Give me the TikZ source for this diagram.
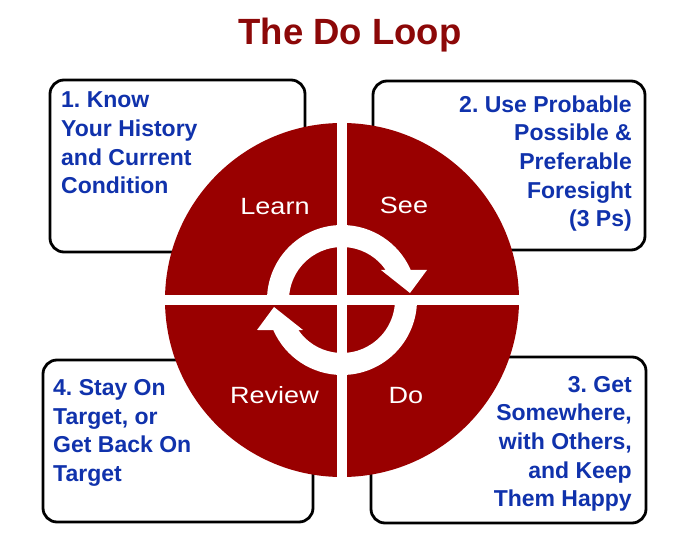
\documentclass[tikz,border=0pt]{standalone}
\usepackage{fontspec}
\setmainfont{Liberation Sans}
\newfontfamily\labfont[FakeStretch=1.15]{Liberation Sans}
\definecolor{loopred}{RGB}{153,0,0}
\definecolor{titlered}{RGB}{140,8,8}
\definecolor{stepblue}{RGB}{16,50,172}
\frenchspacing
\begin{document}
\begin{tikzpicture}[x=1pt,y=1pt,
  card/.style={draw=black, line width=2.8pt, fill=white, rounded corners=14pt},
  steptext/.style={inner sep=0pt, text=stepblue, font=\fontsize{23}{28.7}\selectfont\bfseries},
  seglabel/.style={inner sep=0pt, text=white, font=\labfont\fontsize{23.5}{28}\selectfont, anchor=base},
  looparrow/.style={fill=white}
]
\useasboundingbox (0,0) rectangle (691,544);
\fill[white] (0,0) rectangle (691,544);
\node[anchor=base, text=titlered, font=\fontsize{36.5}{40}\selectfont\bfseries, inner sep=0pt] (title) at (350,499) {The Do Loop};
% cards
\draw[card] (50,292) rectangle (305,464);
\draw[card] (373,294) rectangle (645,463);
\draw[card] (371,21) rectangle (646,187);
\draw[card] (43,22) rectangle (313,184);
% disc
\fill[loopred] (342,244) circle (177);
\fill[white] (163,239) rectangle (521,249);
\fill[white] (337,65) rectangle (347,423);
% loop arrows
\begin{scope}[shift={(342,244)}]
  \fill[looparrow] (180:75) arc[start angle=180,end angle=23.6,radius=75] -- (85,30) -- (68,7) -- (39,30) -- (34.5:53) arc[start angle=34.5,end angle=180,radius=53] -- cycle;
  \fill[looparrow, rotate=180] (180:75) arc[start angle=180,end angle=23.6,radius=75] -- (85,30) -- (68,7) -- (39,30) -- (34.5:53) arc[start angle=34.5,end angle=180,radius=53] -- cycle;
\end{scope}
% segment labels
\node[seglabel] (learn) at (275,329.7) {Learn};
\node[seglabel] (see) at (404,330) {See};
\node[seglabel] (review) at (274.5,140) {Review};
\node[seglabel] (do) at (406,140) {Do};
% card texts
\node[steptext, anchor=north west, align=left] (t1) at (61,452.2) {1. Know\\Your History\\and Current\\Condition};
\node[steptext, anchor=north east, align=right] (t2) at (632,448.8) {2. Use Probable\\Possible \&\\Preferable\\Foresight\\(3 Ps)};
\node[steptext, anchor=north east, align=right] (t3) at (632,168.2) {3. Get\\Somewhere,\\with Others,\\and Keep\\Them Happy};
\node[steptext, anchor=north west, align=left] (t4) at (53,164.8) {4. Stay On\\Target, or\\Get Back On\\Target};
\end{tikzpicture}
\end{document}
